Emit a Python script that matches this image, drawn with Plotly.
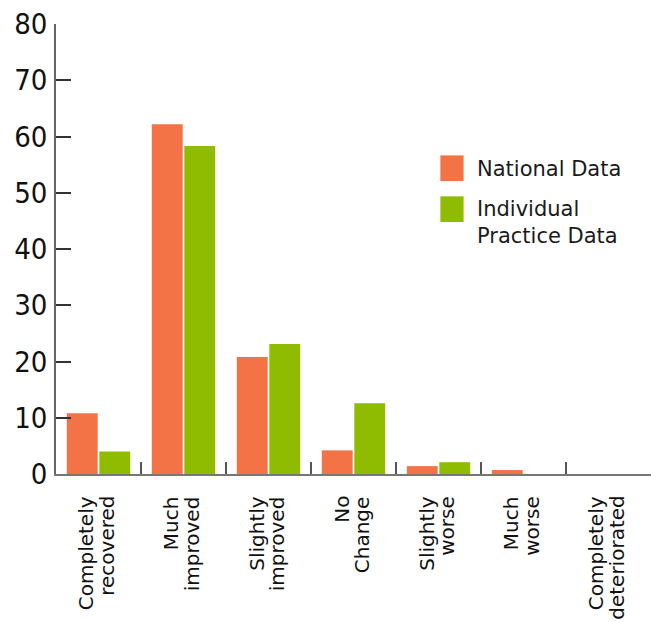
import plotly.graph_objects as go

categories = [
    "Completely<br>recovered",
    "Much<br>improved",
    "Slightly<br>improved",
    "No<br>Change",
    "Slightly<br>worse",
    "Much<br>worse",
    "Completely<br>deteriorated",
]
series_names = ["National Data", "Individual<br>Practice Data"]
national = [10.8, 62.2, 20.8, 4.2, 1.4, 0.7, 0.0]
practice = [4.0, 58.3, 23.1, 12.6, 2.1, 0.0, 0.0]
y_ticks = [0, 10, 20, 30, 40, 50, 60, 70, 80]

colors = ["#F37246", "#8FBC00"]

fig = go.Figure()
for name, vals, col in zip(series_names, [national, practice], colors):
    fig.add_trace(go.Bar(x=categories, y=vals, name=name, marker_color=col,
                         marker_line_width=0, showlegend=False))

# Category labels: each line is its own rotated annotation so the
# line spacing can be kept tight
label_font = dict(family="DejaVu Sans", size=20, color="#111111")
for cat in categories:
    lines = cat.split("<br>")
    n = len(lines)
    for i, line in enumerate(lines):
        offset = (i - (n - 1) / 2) * 20.5 - 2
        fig.add_annotation(x=cat, y=0, xref="x", yref="y", text=line,
                           showarrow=False, textangle=-90,
                           xanchor="center", yanchor="top",
                           xshift=offset, yshift=-20, font=label_font)

# Hand-built legend: large swatches with text beside them
legend_y = [0.651, 0.56]
for name, col, ly in zip(series_names, colors, legend_y):
    fig.add_shape(type="rect", xref="paper", yref="paper",
                  x0=0.646, x1=0.685, y0=ly, y1=ly + 0.057,
                  fillcolor=col, line_width=0)
    fig.add_annotation(xref="paper", yref="paper", x=0.705, y=ly + 0.059,
                       text=name, showarrow=False, xanchor="left", yanchor="top",
                       align="left",
                       font=dict(family="DejaVu Sans", size=21, color="#1a1a1a"))

fig.update_layout(
    width=651, height=622,
    margin=dict(l=56, r=0, t=24, b=148),
    paper_bgcolor="white", plot_bgcolor="white",
    barmode="group", bargap=0.235, bargroupgap=0.05,
)
fig.update_yaxes(
    range=[0, 80], tickvals=y_ticks, showgrid=False, zeroline=False,
    showline=True, linecolor="#666666", linewidth=1.5,
    ticks="inside", ticklen=15, tickcolor="#333333", tickwidth=1.5,
    tickfont=dict(family="DejaVu Sans Condensed, Roboto", size=29, color="#111111"),
    ticklabelstandoff=1,
)
fig.update_xaxes(
    showgrid=False, showline=True, linecolor="#777777", linewidth=2,
    tickson="boundaries", ticks="inside", ticklen=12, tickcolor="#555555", tickwidth=1.5,
    showticklabels=False,
)

fig.write_html("out.html")
